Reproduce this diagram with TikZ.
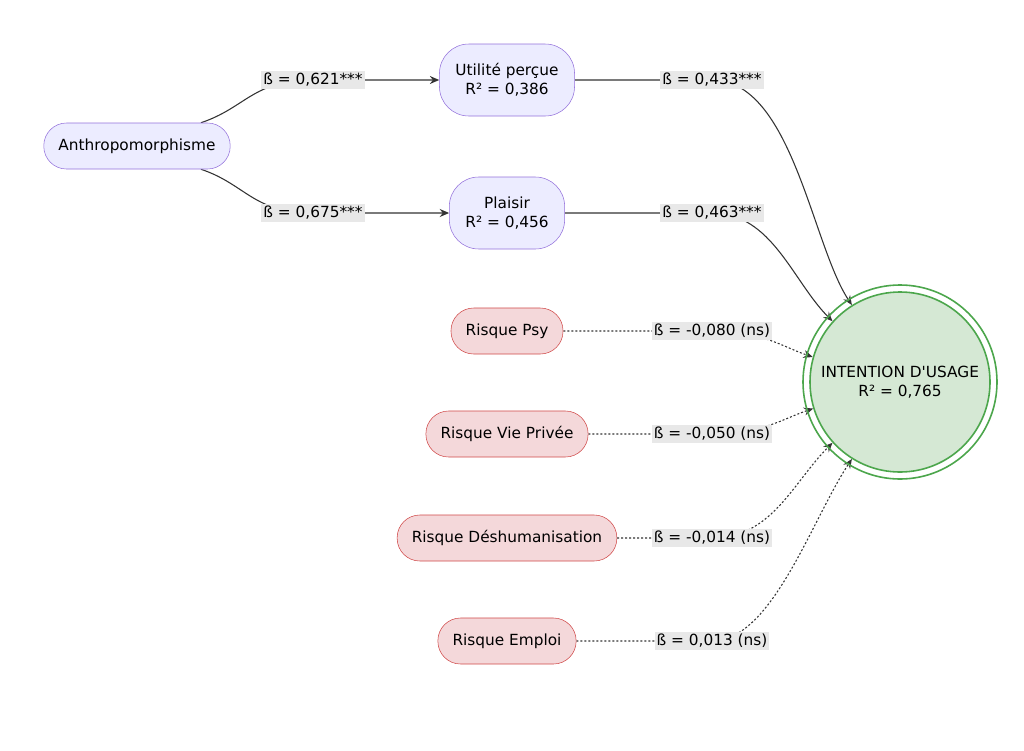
\documentclass[tikz,border=0pt]{standalone}
\usepackage{fontspec}
\setmainfont{DejaVu Sans}
\usetikzlibrary{arrows.meta,positioning}
\pgfdeclarelayer{background}
\pgfsetlayers{background,main}
\definecolor{lavfill}{HTML}{ECECFF}
\definecolor{lavdraw}{HTML}{9370DB}
\definecolor{riskfill}{HTML}{F4D8DA}
\definecolor{riskdraw}{HTML}{D04848}
\definecolor{goalfill}{HTML}{D5E8D4}
\definecolor{goaldraw}{HTML}{4CA64C}
\definecolor{lblfill}{HTML}{E8E8E8}
\tikzset{
  every node/.style={font=\fontsize{11.5pt}{14.5pt}\selectfont, align=center},
  factor/.style={draw=lavdraw, fill=lavfill, rounded corners=17pt, inner xsep=11pt, minimum height=34.5pt},
  factor2/.style={draw=lavdraw, fill=lavfill, rounded corners=22pt, inner xsep=12pt, minimum height=54pt},
  risk/.style={draw=riskdraw, fill=riskfill, rounded corners=17pt, inner xsep=11pt, minimum height=34.5pt},
  beta/.style={fill=lblfill, inner sep=1.5pt},
  edge/.style={draw=black!80, line width=0.8pt, -{Stealth[length=7pt,width=6pt]}},
  weak/.style={edge, dash pattern=on 1.5pt off 1.5pt}
}
\begin{document}
\begin{tikzpicture}[x=0.75pt, y=-0.75pt]
\useasboundingbox (0,0) rectangle (1024,750);
% factors
\node[factor] (anth) at (137,146) {Anthropomorphisme};
\node[factor2] (util) at (507,80) {Utilité perçue\\R² = 0,386};
\node[factor2] (plai) at (507,213) {Plaisir\\R² = 0,456};
% risks
\node[risk] (rpsy) at (507,331) {Risque Psy};
\node[risk] (rvie) at (507,434) {Risque Vie Privée};
\node[risk] (rdes) at (507,538) {Risque Déshumanisation};
\node[risk] (remp) at (507,641) {Risque Emploi};
% outcome
\node[circle, draw=goaldraw, fill=goalfill, line width=1.2pt, minimum size=135pt, inner sep=0pt] (usage) at (900,382) {INTENTION D\textquotesingle USAGE\\R² = 0,765};
\draw[goaldraw, line width=1.2pt] (usage.center) circle (97);
% labels
\node[beta] (b1) at (313,80) {ß = 0,621***};
\node[beta] (b2) at (313,213) {ß = 0,675***};
\node[beta] (b3) at (712,80) {ß = 0,433***};
\node[beta] (b4) at (712,213) {ß = 0,463***};
\node[beta] (b5) at (712,331) {ß = -0,080 (ns)};
\node[beta] (b6) at (712,434) {ß = -0,050 (ns)};
\node[beta] (b7) at (712,538) {ß = -0,014 (ns)};
\node[beta] (b8) at (712,641) {ß = 0,013 (ns)};
\begin{pgfonlayer}{background}
\draw[edge] (anth.20) .. controls +(45,-15) and +(-60,0) .. (b1.center) -- (util.west);
\draw[edge] (anth.-20) .. controls +(45,15) and +(-60,0) .. (b2.center) -- (plai.west);
\draw[edge] (util.east) -- (b3.center) .. controls +(80,0) and +(-40,-60) .. (usage.122);
\draw[edge] (plai.east) -- (b4.center) .. controls +(60,0) and +(-40,-40) .. (usage.138);
\draw[weak] (rpsy.east) -- (b5.center) .. controls +(50,0) and +(-30,-10) .. (usage.164);
\draw[weak] (rvie.east) -- (b6.center) .. controls +(50,0) and +(-30,10) .. (usage.197);
\draw[weak] (rdes.east) -- (b7.center) .. controls +(60,0) and +(-40,40) .. (usage.222);
\draw[weak] (remp.east) -- (b8.center) .. controls +(60,0) and +(-40,60) .. (usage.238);
\end{pgfonlayer}
\end{tikzpicture}
\end{document}
